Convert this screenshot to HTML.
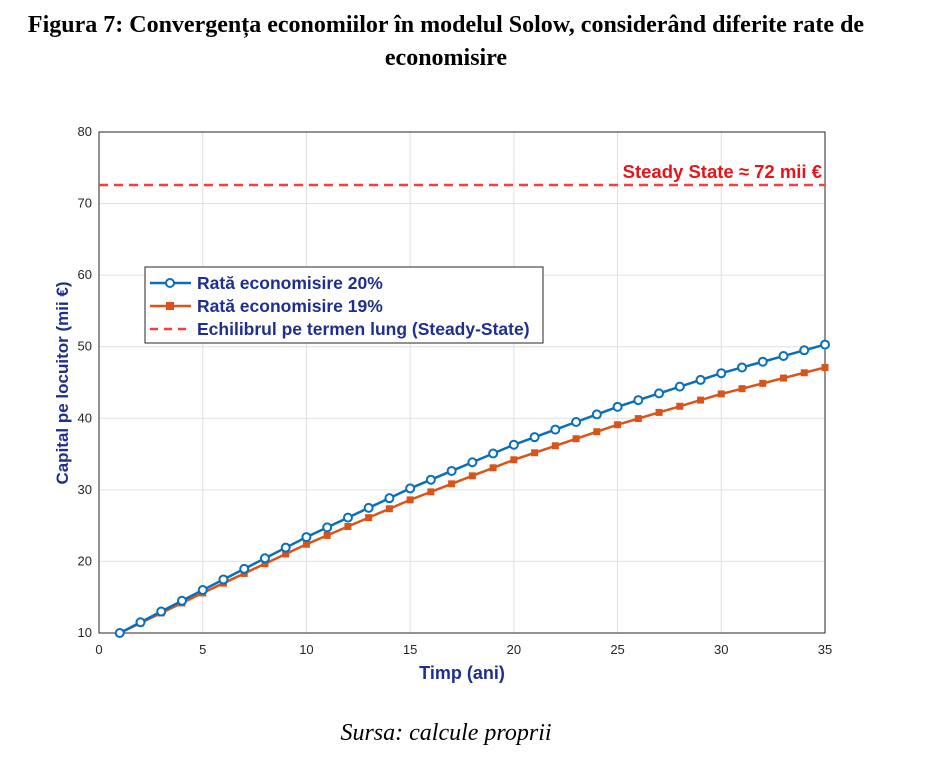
<!DOCTYPE html>
<html><head><meta charset="utf-8"><style>
body{margin:0;background:#fff;width:941px;height:769px;overflow:hidden}
</style></head><body>
<svg id="s" width="941" height="769" xmlns="http://www.w3.org/2000/svg" font-family="Liberation Sans, sans-serif">
<text x="446" y="32" text-anchor="middle" font-family="Liberation Serif, serif" font-weight="bold" font-size="24">Figura 7: Convergența economiilor în modelul Solow, considerând diferite rate de</text>
<text x="446" y="65" text-anchor="middle" font-family="Liberation Serif, serif" font-weight="bold" font-size="24">economisire</text>
<text x="446" y="740" text-anchor="middle" font-family="Liberation Serif, serif" font-style="italic" font-size="24">Sursa: calcule proprii</text>
<g id="grid" stroke="#e0e0e0" stroke-width="1"></g>
<rect x="99" y="132" width="726" height="501" fill="none" stroke="#262626" stroke-width="1"/>
<g id="ticks" font-size="13" fill="#262626"></g>
<line x1="99" y1="185" x2="825" y2="185" stroke="#f04040" stroke-width="2.5" stroke-dasharray="9,6"/>
<text x="822" y="178" text-anchor="end" font-weight="bold" font-size="18.5" fill="#e8141c">Steady State ≈ 72 mii €</text>
<g id="series"></g>
<text x="462" y="679" text-anchor="middle" font-weight="bold" font-size="18" fill="#1f2f8f">Timp (ani)</text>
<text transform="translate(68,383) rotate(-90)" text-anchor="middle" font-weight="bold" font-size="17" fill="#1f2f8f">Capital pe locuitor (mii €)</text>
<rect x="145" y="267" width="398" height="76" fill="#fff" stroke="#262626" stroke-width="1"/>
<line x1="150" y1="283" x2="191" y2="283" stroke="#0a6fba" stroke-width="2.5"/>
<circle cx="170" cy="283" r="4" fill="#fff" stroke="#0a6fba" stroke-width="2"/>
<line x1="150" y1="306" x2="191" y2="306" stroke="#d9541a" stroke-width="2.5"/>
<rect x="166" y="302" width="8" height="8" fill="#d9541a"/>
<line x1="150" y1="329" x2="191" y2="329" stroke="#f04040" stroke-width="2.5" stroke-dasharray="8,6"/>
<g font-weight="bold" font-size="17.5" fill="#1f2f8f">
<text x="197" y="289">Rată economisire 20%</text>
<text x="197" y="312">Rată economisire 19%</text>
<text x="197" y="335">Echilibrul pe termen lung (Steady-State)</text>
</g>
</svg>
<script>
var X=function(t){return 99+t*726/35},Y=function(v){return 633-(v-10)*501/70};
var ns="http://www.w3.org/2000/svg";
function el(p,n,a){var e=document.createElementNS(ns,n);for(var k in a)e.setAttribute(k,a[k]);p.appendChild(e);return e;}
var g=document.getElementById('grid'),tk=document.getElementById('ticks');
for(var t=0;t<=35;t+=5){el(g,'line',{x1:X(t),x2:X(t),y1:132,y2:633});var tx=el(tk,'text',{x:X(t),y:654,'text-anchor':'middle'});tx.textContent=t;}
for(var v=10;v<=80;v+=10){el(g,'line',{x1:99,x2:825,y1:Y(v),y2:Y(v)});var ty=el(tk,'text',{x:92,y:Y(v)+4,'text-anchor':'end'});ty.textContent=v;}
function interp(a,t){for(var i=0;i<a.length-1;i++){if(t>=a[i][0]&&t<=a[i+1][0]){var f=(t-a[i][0])/(a[i+1][0]-a[i][0]);return a[i][1]+f*(a[i+1][1]-a[i][1]);}}return a[a.length-1][1];}
var A=[[1,10],[5,16],[10,23.4],[15,30.2],[20,36.3],[25,41.6],[30,46.3],[35,50.3]];
var B=[[1,10],[5,15.6],[10,22.4],[15,28.6],[20,34.2],[25,39.1],[30,43.4],[35,47.1]];
var s=document.getElementById('series');
function draw(arr,col,mk){var pts=[];for(var t=1;t<=35;t++)pts.push(X(t)+','+Y(interp(arr,t)));
el(s,'polyline',{points:pts.join(' '),fill:'none',stroke:col,'stroke-width':2.5});
for(var t=1;t<=35;t++){var x=X(t),y=Y(interp(arr,t));
if(mk)el(s,'circle',{cx:x,cy:y,r:4,fill:'#fff',stroke:col,'stroke-width':2});else el(s,'rect',{x:x-3.5,y:y-3.5,width:7,height:7,fill:col});}}
draw(B,'#d9541a',false);draw(A,'#0a6fba',true);
</script>
</body></html>
